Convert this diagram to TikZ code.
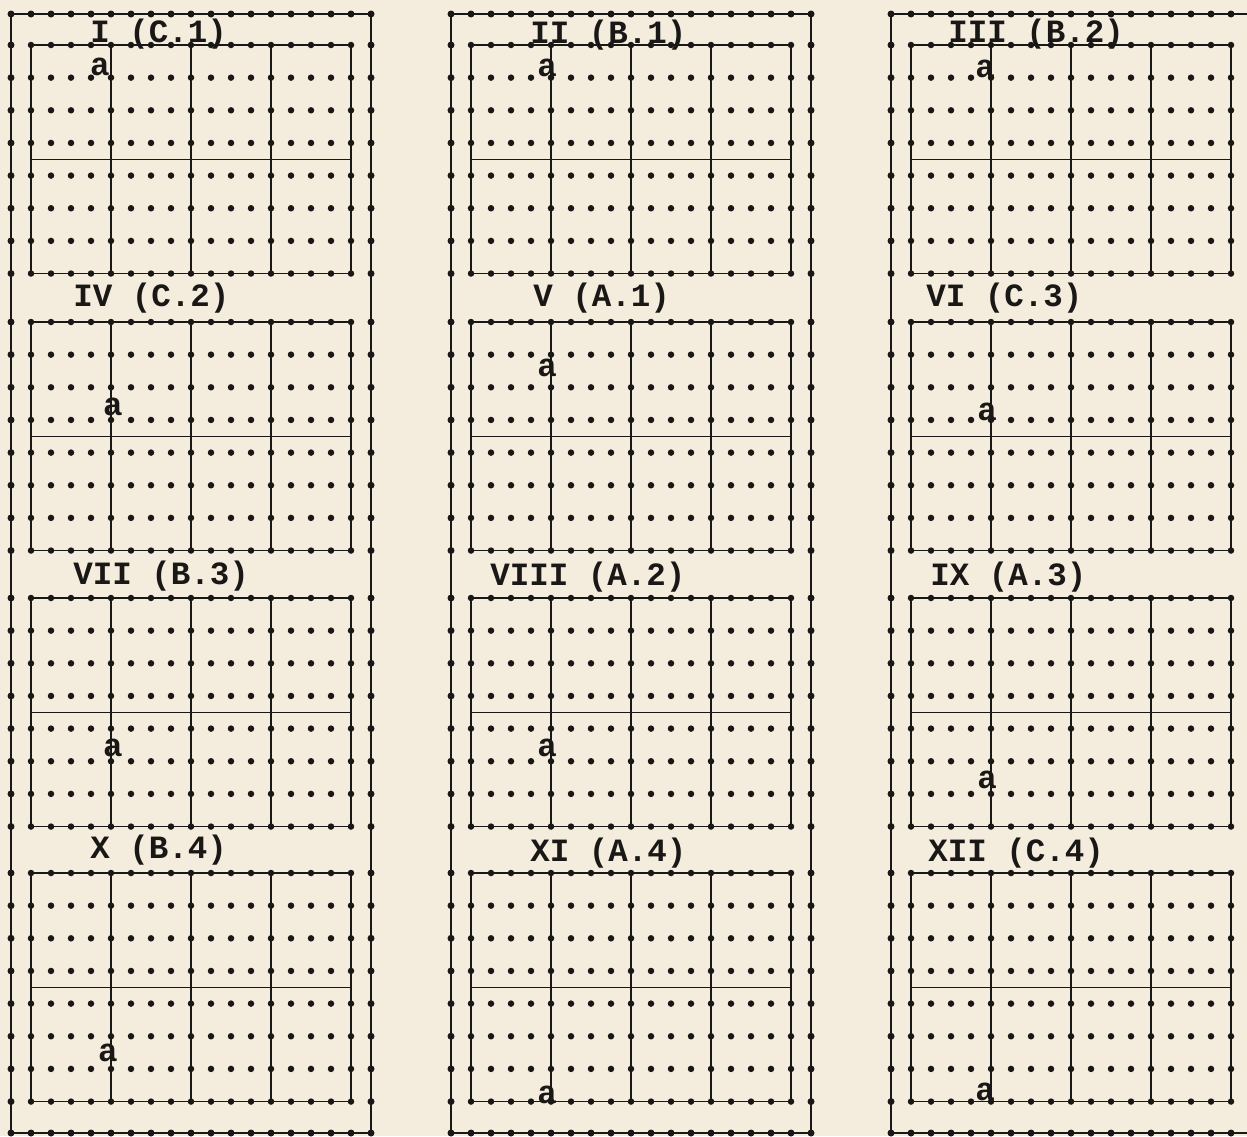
\documentclass[tikz,border=0pt]{standalone}
\usepackage{fontspec}
\newfontfamily\typewriter{Liberation Mono}
\definecolor{paper}{RGB}{244,237,222}
\definecolor{ink}{RGB}{26,24,22}

\begin{document}
\begin{tikzpicture}[
    x=0.02cm, y=-0.02cm,
    outer/.style={draw=ink, line width=1.1pt},
    panel/.style={draw=ink, line width=0.9pt},
    rule/.style={draw=ink, line width=0.7pt},
    typed/.style={font=\typewriter\bfseries\fontsize{18.5}{18.5}\selectfont, text=ink, inner sep=0pt},
    heading/.style={typed, anchor=west}
]

% Paper
\fill[paper] (0,0) rectangle (1247,1136);
\useasboundingbox (0,0) rectangle (1247,1136);
\clip (0,0) rectangle (1247,1136);

% Outer frames, one per column
\foreach \c in {0,440,880}{
    \draw[outer] (11+\c,14) rectangle (371+\c,1133);
    \foreach \k in {0,...,18}{
        \fill[ink] (11+\c+20*\k,14) circle[radius=0.07cm];
        \fill[ink] (11+\c+20*\k,1133) circle[radius=0.07cm];
    }
    \foreach \t in {45,322,598,873}{
        \foreach \r in {0,...,7}{
            \fill[ink] (11+\c,\t+32.65*\r) circle[radius=0.07cm];
            \fill[ink] (371+\c,\t+32.65*\r) circle[radius=0.07cm];
        }
    }
}

% Panels: ruled grid and typed dots
\foreach \c in {0,440,880}{
    \foreach \t in {45,322,598,873}{
        \draw[panel] (31+\c,\t) rectangle (351+\c,\t+228.55);
        \foreach \i in {1,2,3}
            \draw[rule] (31+\c+80*\i,\t) -- (31+\c+80*\i,\t+228.55);
        \draw[rule] (31+\c,\t+114.3) -- (351+\c,\t+114.3);
        \foreach \i in {0,...,16}{
            \foreach \r in {0,...,7}{
                \fill[ink] (31+\c+20*\i,\t+32.65*\r) circle[radius=0.065cm];
            }
        }
    }
}

% Panel headings
\node[heading] (h1)  at (90, 34)   {I (C.1)};
\node[heading] (h2)  at (530, 35)  {II (B.1)};
\node[heading] (h3)  at (948, 34)  {III (B.2)};
\node[heading] (h4)  at (73, 298)  {IV (C.2)};
\node[heading] (h5)  at (533, 298) {V (A.1)};
\node[heading] (h6)  at (926, 298) {VI (C.3)};
\node[heading] (h7)  at (73, 576)  {VII (B.3)};
\node[heading] (h8)  at (490, 577) {VIII (A.2)};
\node[heading] (h9)  at (930, 577) {IX (A.3)};
\node[heading] (h10) at (90, 850)  {X (B.4)};
\node[heading] (h11) at (530, 853) {XI (A.4)};
\node[heading] (h12) at (928, 853) {XII (C.4)};

% Position of a in each panel
\node[typed] (a1)  at (100, 67)   {a};
\node[typed] (a2)  at (547, 68)   {a};
\node[typed] (a3)  at (985, 69)   {a};
\node[typed] (a4)  at (113, 407)  {a};
\node[typed] (a5)  at (547, 368)  {a};
\node[typed] (a6)  at (987, 412)  {a};
\node[typed] (a7)  at (113, 748)  {a};
\node[typed] (a8)  at (547, 748)  {a};
\node[typed] (a9)  at (987, 780)  {a};
\node[typed] (a10) at (108, 1053) {a};
\node[typed] (a11) at (547, 1095) {a};
\node[typed] (a12) at (985, 1092) {a};

\end{tikzpicture}
\end{document}
